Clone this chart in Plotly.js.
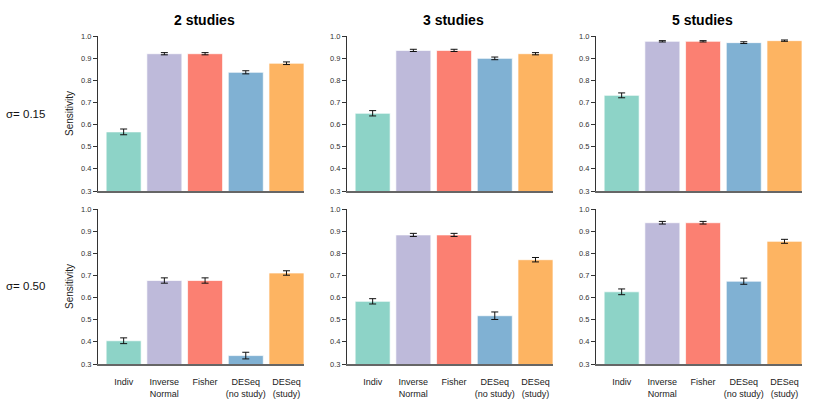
<!DOCTYPE html>
<html>
<head>
<meta charset="utf-8">
<script src="https://cdn.plot.ly/plotly-3.0.1.min.js"></script>
<style>
  html, body { margin: 0; padding: 0; background: #fff; }
  #plot { width: 817px; height: 409px; }
</style>
</head>
<body>
<div id="plot"></div>
<script>
// methods on the x axis
const methods = ["Indiv", "Inverse<br>Normal", "Fisher", "DESeq<br>(no study)", "DESeq<br>(study)"];
const colors = ["#8DD3C7", "#BEBADA", "#FB8072", "#80B1D3", "#FDB462"];
const studyTitles = ["2 studies", "3 studies", "5 studies"];
const sigmaLabels = ["\u03c3= 0.15", "\u03c3= 0.50"];
const yTicks = [0.3, 0.4, 0.5, 0.6, 0.7, 0.8, 0.9, 1.0];

// sensitivity (mean) and error half-width, sigma = 0.15
const sens015_2 = [0.567, 0.920, 0.920, 0.836, 0.877];
const err015_2  = [0.013, 0.005, 0.005, 0.007, 0.006];
const sens015_3 = [0.651, 0.935, 0.935, 0.899, 0.920];
const err015_3  = [0.012, 0.005, 0.005, 0.006, 0.005];
const sens015_5 = [0.732, 0.976, 0.976, 0.970, 0.979];
const err015_5  = [0.011, 0.003, 0.003, 0.004, 0.003];

// sigma = 0.50
const sens050_2 = [0.405, 0.677, 0.677, 0.338, 0.711];
const err050_2  = [0.013, 0.012, 0.012, 0.015, 0.010];
const sens050_3 = [0.583, 0.883, 0.883, 0.518, 0.771];
const err050_3  = [0.012, 0.007, 0.007, 0.017, 0.010];
const sens050_5 = [0.626, 0.938, 0.938, 0.674, 0.854];
const err050_5  = [0.013, 0.006, 0.006, 0.014, 0.009];

const panels = [
  [sens015_2, err015_2], [sens015_3, err015_3], [sens015_5, err015_5],
  [sens050_2, err050_2], [sens050_3, err050_3], [sens050_5, err050_5],
];

const W = 817, H = 409;
const colLeft = [98, 347, 596];   // px, left edge of each plot area
const plotW = 206;
const rowTop = [36, 209], rowBot = [191, 364];
const font = "Liberation Sans, Arial, Helvetica, sans-serif";
const xIdx = [0, 1, 2, 3, 4];

let traces = [];
let layout = {
  width: W, height: H,
  margin: { l: 0, r: 0, t: 0, b: 0 },
  paper_bgcolor: "#fff", plot_bgcolor: "#fff",
  showlegend: false,
  font: { family: font, color: "#222" },
  annotations: [],
};

for (let p = 0; p < 6; p++) {
  let row = Math.floor(p / 3), col = p % 3;
  let n = p + 1;
  let xa = n === 1 ? "x" : "x" + n, ya = n === 1 ? "y" : "y" + n;
  traces.push({
    type: "bar",
    x: xIdx,
    y: panels[p][0],
    base: 0,
    width: 0.86,
    xaxis: xa, yaxis: ya,
    marker: { color: colors, line: { color: "rgba(255,255,255,0.7)", width: 1 } },
    error_y: { type: "data", array: panels[p][1], visible: true, color: "#111", thickness: 1, width: 3.5 },
    hoverinfo: "y",
  });

  let x0 = colLeft[col] / W, x1 = (colLeft[col] + plotW) / W;
  let y0 = (H - rowBot[row]) / H, y1 = (H - rowTop[row]) / H;
  layout["xaxis" + (n === 1 ? "" : n)] = {
    domain: [x0, x1],
    anchor: ya,
    range: [-0.63, 4.43],
    tickvals: xIdx,
    ticktext: methods,
    showticklabels: row === 1,
    ticks: "",
    ticklabelstandoff: 8,
    tickfont: { size: 9, color: "#222" },
    showline: true, linecolor: "#666", linewidth: 2,
    showgrid: false, zeroline: false, fixedrange: true,
  };
  layout["yaxis" + (n === 1 ? "" : n)] = {
    domain: [y0, y1],
    anchor: xa,
    range: [0.3, 1.0],
    tickvals: yTicks,
    tickformat: ".1f",
    ticks: "outside", ticklen: 4, tickcolor: "#333", tickwidth: 1,
    tickfont: { size: 7.5, color: "#333" },
    showline: true, linecolor: "#333", linewidth: 1,
    showgrid: false, zeroline: false, fixedrange: true,
    title: col === 0 ? { text: "Sensitivity", font: { size: 10, color: "#222" }, standoff: 5 } : { text: "" },
  };

  if (row === 0) {
    layout.annotations.push({
      text: "<b>" + studyTitles[col] + "</b>",
      xref: "paper", yref: "paper",
      x: (colLeft[col] + 106.5) / W, y: (H - 20) / H,
      xanchor: "center", yanchor: "middle",
      showarrow: false, font: { size: 14, color: "#000" },
    });
  }
}

sigmaLabels.forEach((s, r) => {
  layout.annotations.push({
    text: s, xref: "paper", yref: "paper",
    x: 25 / W, y: (H - (rowTop[r] + rowBot[r]) / 2) / H,
    xanchor: "center", yanchor: "middle",
    showarrow: false, font: { size: 11.5, color: "#111" },
  });
});

Plotly.newPlot("plot", traces, layout, { staticPlot: true });
</script>
</body>
</html>
